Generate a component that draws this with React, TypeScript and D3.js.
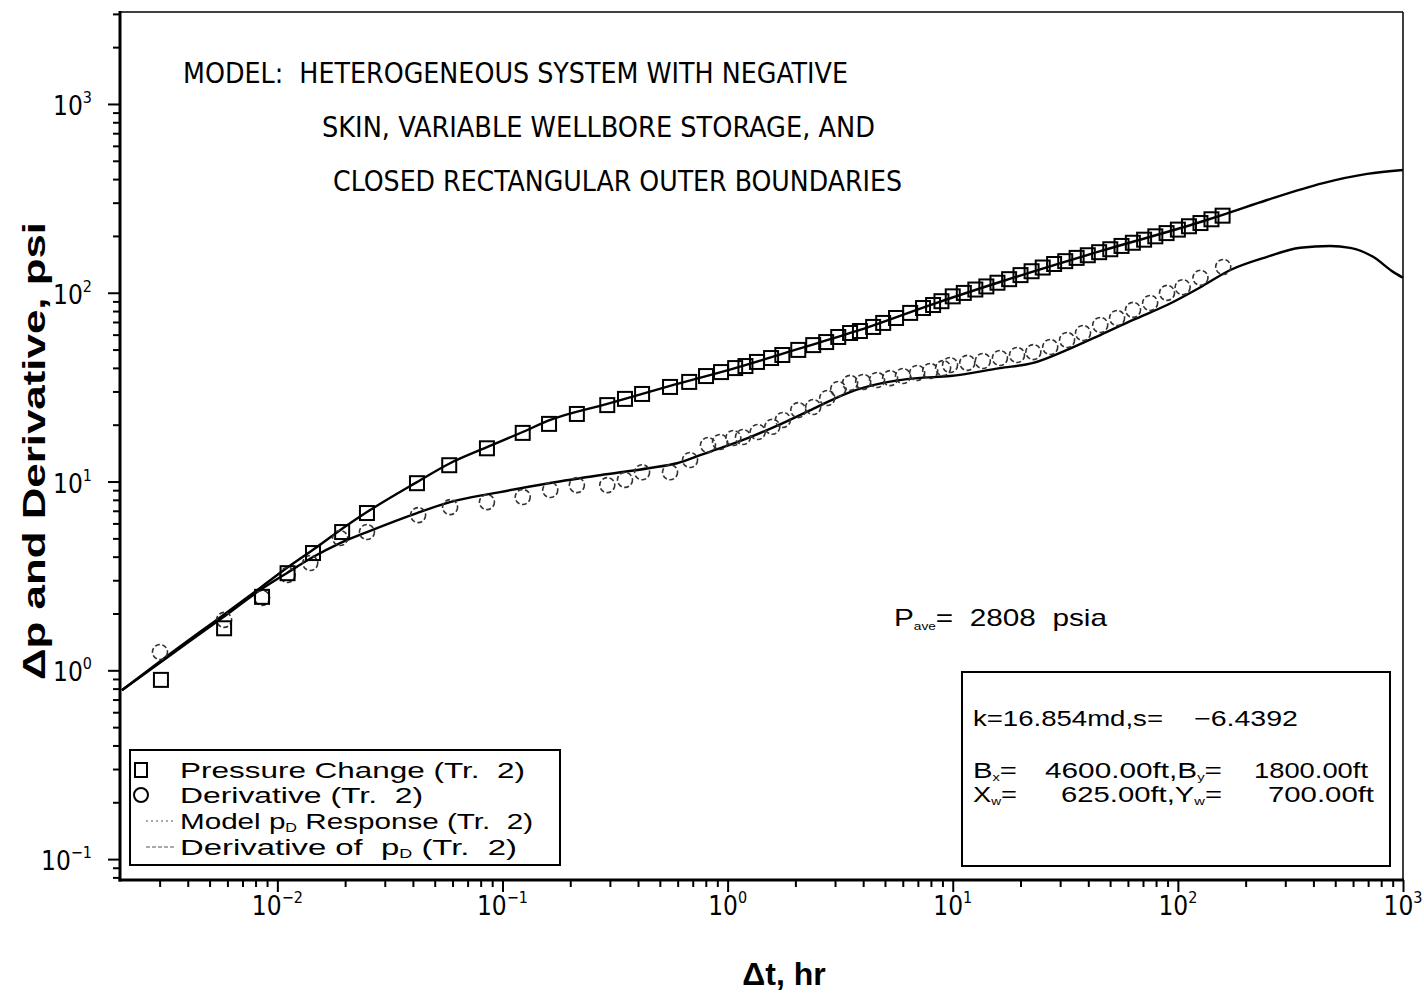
import React, { useEffect, useRef } from "react";
import * as d3 from "d3";

// pressure change (squares)
const pressureT = [
  0.00304, 0.0058, 0.00855, 0.0111, 0.0144, 0.0194, 0.025, 0.0417, 0.058, 0.0853,
  0.123, 0.161, 0.214, 0.292, 0.35, 0.417, 0.555, 0.675, 0.802, 0.935,
  1.08, 1.2, 1.35, 1.56, 1.75, 2.06, 2.4, 2.74, 3.1, 3.5,
  3.87, 4.43, 4.91, 5.6, 6.47, 7.38, 8.18, 8.91, 10.0, 11.2,
  12.6, 14.1, 15.8, 17.8, 20.0, 22.4, 25.1, 28.2, 31.6, 35.5,
  39.8, 44.7, 50.1, 56.2, 63.1, 70.8, 79.4, 89.1, 100, 112,
  126, 141, 158,
];
const pressureDp = [
  0.89, 1.67, 2.45, 3.27, 4.18, 5.4, 6.81, 9.8, 12.2, 15.0,
  18.1, 20.2, 22.8, 25.4, 27.4, 29.1, 31.7, 33.7, 36.2, 38.0,
  39.9, 40.9, 43.0, 45.1, 46.8, 49.8, 52.8, 54.8, 58.3, 61.2,
  62.7, 65.9, 69.2, 73.5, 78.2, 83.0, 86.1, 90.2, 95.7, 99.8,
  104, 108, 113, 118, 124, 130, 136, 142, 147, 153,
  158, 164, 170, 177, 184, 191, 199, 207, 216, 225,
  234, 245, 256,
];

// derivative (circles)
const derivT = [
  0.00301, 0.0058, 0.00855, 0.0111, 0.014, 0.019, 0.025, 0.0422, 0.0585, 0.0853,
  0.123, 0.163, 0.214, 0.292, 0.35, 0.417, 0.555, 0.681, 0.818, 0.925,
  1.06, 1.17, 1.36, 1.58, 1.76, 2.06, 2.4, 2.77, 3.1, 3.5,
  4.0, 4.61, 5.27, 6.01, 6.95, 7.94, 9.06, 9.73, 11.6, 13.6,
  16.2, 19.3, 22.8, 27.1, 32.2, 37.9, 45.2, 53.7, 63.2, 75.3,
  89.5, 105, 126, 159,
];
const derivVal = [
  1.25, 1.85, 2.42, 3.2, 3.7, 5.02, 5.4, 6.64, 7.32, 7.78,
  8.28, 9.02, 9.57, 9.57, 10.2, 11.2, 11.2, 13.0, 15.6, 16.2,
  17.0, 17.2, 18.3, 19.5, 21.2, 23.9, 24.8, 27.7, 30.9, 33.3,
  33.7, 34.5, 35.3, 36.2, 37.6, 38.5, 39.9, 41.4, 42.5, 43.5,
  45.1, 46.8, 48.5, 51.6, 56.2, 61.2, 67.5, 73.5, 81.1, 88.3,
  99.8, 107, 120, 137,
];

// model pD response (upper line)
const modelT = [
  0.00204, 0.00324, 0.00574, 0.00838, 0.011, 0.015, 0.0196, 0.025, 0.0417, 0.0585,
  0.0853, 0.123, 0.163, 0.292, 0.555, 1.08, 2.06, 3.87, 8.18, 16.2,
  45.2, 126, 162, 249, 442, 693, 1000,
];
const modelDp = [
  0.785, 1.19, 1.96, 2.73, 3.48, 4.5, 5.67, 6.89, 9.93, 12.5,
  15.2, 18.3, 21.2, 25.8, 32.1, 39.9, 50.4, 63.5, 87.1, 114,
  166, 237, 261, 310, 381, 426, 447,
];

// derivative of pD (lower line)
const modelDerivT = [
  0.00204, 0.00324, 0.00574, 0.00838, 0.011, 0.0144, 0.019, 0.025, 0.0417, 0.0585,
  0.0975, 0.163, 0.271, 0.452, 0.596, 0.755, 0.955, 1.26, 1.76, 2.49,
  3.5, 4.91, 6.95, 9.73, 16.2, 22.8, 32.2, 45.2, 63.2, 89.5,
  126, 171, 249, 349, 474, 582, 736, 904, 1000,
];
const modelDerivVal = [
  0.785, 1.17, 1.91, 2.66, 3.27, 3.98, 4.72, 5.4, 6.81, 7.78,
  8.79, 9.82, 10.8, 11.8, 12.5, 13.8, 15.2, 17.2, 20.4, 24.8,
  29.8, 33.3, 35.3, 36.2, 39.9, 42.5, 49.8, 59.7, 71.8, 86.1,
  107, 132, 155, 173, 177, 173, 155, 129, 120,
];

const xMajor = [0.01, 0.1, 1, 10, 100, 1000];
const xExp = ["\u22122", "\u22121", "0", "1", "2", "3"];
const yMajor = [0.1, 1, 10, 100, 1000];
const yExp = ["\u22121", "0", "1", "2", "3"];

const titleLines = [
  "MODEL:  HETEROGENEOUS SYSTEM WITH NEGATIVE",
  "SKIN, VARIABLE WELLBORE STORAGE, AND",
  "CLOSED RECTANGULAR OUTER BOUNDARIES",
];

const NARROW = "'Liberation Sans Narrow', 'DejaVu Sans Condensed', sans-serif";
const SANS = "'Liberation Sans', Arial, sans-serif";

const App = () => {
  const svgRef = useRef<SVGSVGElement | null>(null);

  useEffect(() => {
    const svg = d3.select(svgRef.current);
    svg.selectAll("*").remove();

    const left = 120, right = 1403, top = 12, bottom = 880;
    const x = d3.scaleLog().domain([0.002, 1000]).range([left, right]);
    const y = d3.scaleLog().domain([0.0775, 3070]).range([bottom, top]);

    const minorOf = (dom: number[]) => {
      const out: number[] = [];
      for (let e = -3; e <= 3; e++)
        for (let k = 2; k <= 9; k++) {
          const v = k * Math.pow(10, e);
          if (v > dom[0] && v < dom[1]) out.push(v);
        }
      return out;
    };

    const styleTicks = (g: any) => {
      g.select(".domain").remove();
      g.selectAll("line").attr("stroke", "#000").attr("stroke-width", 2);
    };

    // ticks
    svg.append("g").attr("transform", `translate(0,${bottom})`)
      .call(d3.axisBottom(x).tickValues(minorOf([0.002, 1000])).tickSize(7).tickFormat(() => ""))
      .call(styleTicks);
    svg.append("g").attr("transform", `translate(0,${bottom})`)
      .call(d3.axisBottom(x).tickValues(xMajor).tickSize(12).tickFormat(() => ""))
      .call(styleTicks);
    svg.append("g").attr("transform", `translate(${left},0)`)
      .call(d3.axisLeft(y).tickValues(minorOf([0.0775, 3070])).tickSize(7).tickFormat(() => ""))
      .call(styleTicks);
    svg.append("g").attr("transform", `translate(${left},0)`)
      .call(d3.axisLeft(y).tickValues(yMajor).tickSize(12).tickFormat(() => ""))
      .call(styleTicks);

    // frame
    svg.append("line").attr("x1", left).attr("x2", right).attr("y1", top).attr("y2", top)
      .attr("stroke", "#000").attr("stroke-width", 1.5);
    svg.append("line").attr("x1", right).attr("x2", right).attr("y1", top).attr("y2", bottom)
      .attr("stroke", "#000").attr("stroke-width", 1.5);
    svg.append("line").attr("x1", left).attr("x2", left).attr("y1", top - 1).attr("y2", bottom + 1.5)
      .attr("stroke", "#000").attr("stroke-width", 3);
    svg.append("line").attr("x1", left - 1.5).attr("x2", right + 1).attr("y1", bottom).attr("y2", bottom)
      .attr("stroke", "#000").attr("stroke-width", 3);

    // tick labels
    xMajor.forEach((v, i) => {
      const t = svg.append("text").attr("x", x(v)).attr("y", 915)
        .attr("text-anchor", "middle").attr("font-family", NARROW).attr("fill", "#000");
      t.append("tspan").attr("font-size", 26).text("10");
      t.append("tspan").attr("font-size", 16).attr("dy", -12).text(xExp[i]);
    });
    yMajor.forEach((v, i) => {
      const t = svg.append("text").attr("x", 92).attr("y", y(v) + 11)
        .attr("text-anchor", "end").attr("font-family", NARROW).attr("fill", "#000");
      t.append("tspan").attr("font-size", 26).text("10");
      t.append("tspan").attr("font-size", 16).attr("dy", -12).text(yExp[i]);
    });

    // axis titles
    svg.append("text").attr("transform", "translate(45,451) rotate(-90)")
      .attr("text-anchor", "middle").attr("font-family", SANS).attr("font-size", 32)
      .attr("font-weight", "bold").attr("textLength", 458).attr("lengthAdjust", "spacingAndGlyphs")
      .text("\u0394p and Derivative, psi");
    svg.append("text").attr("x", 784).attr("y", 985)
      .attr("text-anchor", "middle").attr("font-family", SANS).attr("font-size", 32)
      .attr("font-weight", "bold").text("\u0394t, hr");

    // model lines
    const line = d3.line<[number, number]>()
      .x((d) => x(d[0])).y((d) => y(d[1])).curve(d3.curveMonotoneX);
    svg.append("path").datum(modelT.map((t, i) => [t, modelDp[i]] as [number, number]))
      .attr("d", line).attr("fill", "none").attr("stroke", "#000").attr("stroke-width", 2.4);
    svg.append("path").datum(modelDerivT.map((t, i) => [t, modelDerivVal[i]] as [number, number]))
      .attr("d", line).attr("fill", "none").attr("stroke", "#000").attr("stroke-width", 2.4);

    // circles
    svg.append("g").selectAll("circle")
      .data(derivT.map((t, i) => [t, derivVal[i]]))
      .join("circle")
      .attr("cx", (d) => x(d[0])).attr("cy", (d) => y(d[1])).attr("r", 7.5)
      .attr("fill", "none").attr("stroke", "#333").attr("stroke-width", 1.6)
      .attr("stroke-dasharray", "5 2.5");

    // squares
    svg.append("g").selectAll("rect")
      .data(pressureT.map((t, i) => [t, pressureDp[i]]))
      .join("rect")
      .attr("x", (d) => x(d[0]) - 7).attr("y", (d) => y(d[1]) - 7)
      .attr("width", 14).attr("height", 14)
      .attr("fill", "none").attr("stroke", "#000").attr("stroke-width", 2);

    // title
    const titleX = [183, 322, 333];
    const titleY = [83, 137, 191];
    const titleW = [665, 553, 569];
    titleLines.forEach((s, i) => {
      svg.append("text").attr("x", titleX[i]).attr("y", titleY[i])
        .attr("font-family", NARROW).attr("font-size", 28).attr("fill", "#000")
        .attr("textLength", titleW[i]).attr("lengthAdjust", "spacingAndGlyphs")
        .style("white-space", "pre").text(s);
    });

    // legend
    svg.append("rect").attr("x", 130).attr("y", 750).attr("width", 430).attr("height", 115)
      .attr("fill", "#fff").attr("stroke", "#000").attr("stroke-width", 2);
    svg.append("rect").attr("x", 135).attr("y", 763).attr("width", 12).attr("height", 14)
      .attr("fill", "none").attr("stroke", "#000").attr("stroke-width", 2);
    svg.append("circle").attr("cx", 141).attr("cy", 795).attr("r", 7)
      .attr("fill", "none").attr("stroke", "#000").attr("stroke-width", 2);
    svg.append("line").attr("x1", 146).attr("x2", 176).attr("y1", 821).attr("y2", 821)
      .attr("stroke", "#555").attr("stroke-width", 1.2).attr("stroke-dasharray", "2 3");
    svg.append("line").attr("x1", 146).attr("x2", 176).attr("y1", 847).attr("y2", 847)
      .attr("stroke", "#555").attr("stroke-width", 1.2).attr("stroke-dasharray", "4 2");

    const legText = (yy: number, w: number, parts: [string, boolean][]) => {
      const t = svg.append("text").attr("x", 180).attr("y", yy)
        .attr("font-family", SANS).attr("font-size", 22).attr("fill", "#000")
        .attr("textLength", w).attr("lengthAdjust", "spacingAndGlyphs")
        .style("white-space", "pre");
      parts.forEach(([s, sub], i) => {
        const sp = t.append("tspan").text(s);
        if (sub) sp.attr("font-size", 12).attr("dy", 3);
        else if (i > 0 && parts[i - 1][1]) sp.attr("dy", -3);
      });
    };
    legText(778, 345, [["Pressure Change (Tr.  2)", false]]);
    legText(803, 243, [["Derivative (Tr.  2)", false]]);
    legText(829, 353, [["Model p", false], ["D", true], [" Response (Tr.  2)", false]]);
    legText(855, 337, [["Derivative of  p", false], ["D", true], [" (Tr.  2)", false]]);

    // P ave
    const pave = svg.append("text").attr("x", 894).attr("y", 626)
      .attr("font-family", SANS).attr("font-size", 24).attr("fill", "#000")
      .attr("textLength", 213).attr("lengthAdjust", "spacingAndGlyphs")
      .style("white-space", "pre");
    pave.append("tspan").text("P");
    pave.append("tspan").attr("font-size", 11).attr("dy", 4).text("ave");
    pave.append("tspan").attr("dy", -4).text("=  2808  psia");

    // info box
    svg.append("rect").attr("x", 962).attr("y", 672).attr("width", 428).attr("height", 194)
      .attr("fill", "#fff").attr("stroke", "#000").attr("stroke-width", 2);
    const info = (xx: number, yy: number, anchor: string, parts: [string, boolean][], w?: number) => {
      const t = svg.append("text").attr("x", xx).attr("y", yy).attr("text-anchor", anchor)
        .attr("font-family", SANS).attr("font-size", 22).attr("fill", "#000")
        .style("white-space", "pre");
      if (w) t.attr("textLength", w).attr("lengthAdjust", "spacingAndGlyphs");
      parts.forEach(([s, sub], i) => {
        const sp = t.append("tspan").text(s);
        if (sub) sp.attr("font-size", 11).attr("dy", 3);
        else if (i > 0 && parts[i - 1][1]) sp.attr("dy", -3);
      });
    };
    info(973, 726, "start", [["k=16.854md,s=", false]], 190);
    info(1298, 726, "end", [["\u22126.4392", false]], 104);
    info(973, 778, "start", [["B", false], ["x", true], ["=", false]], 44);
    info(1222, 778, "end", [["4600.00ft,B", false], ["y", true], ["=", false]], 177);
    info(1368, 778, "end", [["1800.00ft", false]], 114);
    info(973, 802, "start", [["X", false], ["w", true], ["=", false]], 44);
    info(1222, 802, "end", [["625.00ft,Y", false], ["w", true], ["=", false]], 161);
    info(1374, 802, "end", [["700.00ft", false]], 106);
  }, []);

  return (
    <svg
      ref={svgRef}
      width={1424}
      height={994}
      style={{ position: "absolute", left: 0, top: 0, background: "#fff" }}
    />
  );
};

export default App;
